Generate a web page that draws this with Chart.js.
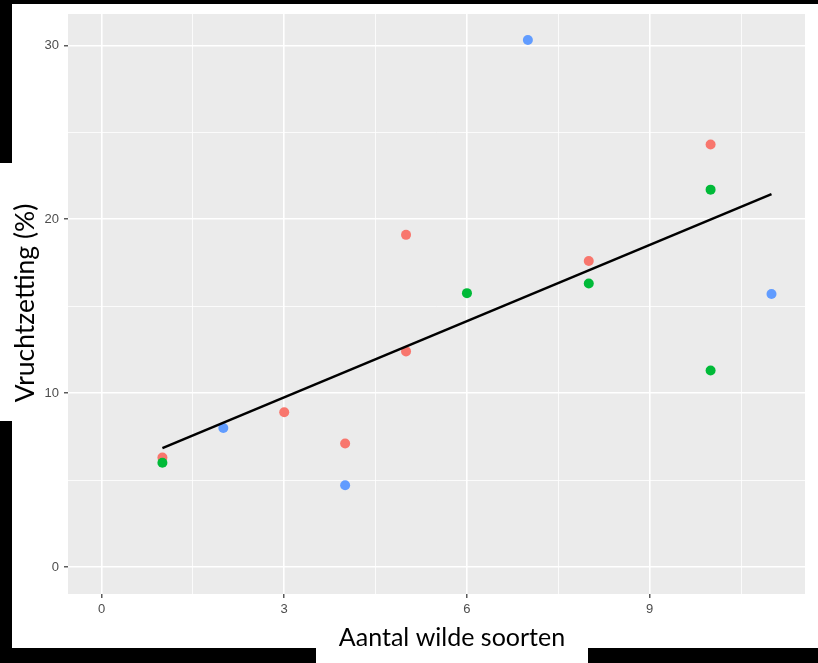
<!DOCTYPE html>
<html>
<head>
<meta charset="utf-8">
<script src="https://cdn.jsdelivr.net/npm/chart.js@4.4.1/dist/chart.umd.min.js"></script>
<style>
html,body{margin:0;padding:0;background:#fff;}
#wrap{position:relative;width:818px;height:663px;}
</style>
</head>
<body>
<div id="wrap"><canvas id="c" width="818" height="663"></canvas></div>
<script>
// ---- data ----
const xRed = [1, 3, 4, 5, 5, 8, 10];
const yRed = [6.3, 8.9, 7.1, 19.1, 12.4, 17.6, 24.3];
const xGreen = [1, 6, 8, 10, 10];
const yGreen = [6.0, 15.75, 16.3, 21.7, 11.3];
const xBlue = [2, 4, 7, 11];
const yBlue = [8.0, 4.7, 30.3, 15.7];
const fitX = [1, 11];
const fitY = [6.84, 21.44];
const xTicks = [0, 1.5, 3, 4.5, 6, 7.5, 9, 10.5];
const xLabelled = [0, 3, 6, 9];
const yTicks = [0, 5, 10, 15, 20, 25, 30];
const yLabelled = [0, 10, 20, 30];
const xTitle = 'Aantal wilde soorten';
const yTitle = 'Vruchtzetting (%)';

const pts = (xs, ys) => xs.map((x, i) => ({x: x, y: ys[i]}));

const frame = {
  id: 'frame',
  beforeDraw(chart) {
    const {ctx, chartArea: a} = chart;
    ctx.save();
    ctx.fillStyle = '#fff';
    ctx.fillRect(0, 0, chart.width, chart.height);
    ctx.fillStyle = '#EBEBEB';
    ctx.fillRect(a.left, a.top, a.right - a.left, a.bottom - a.top);
    ctx.restore();
  },
  afterDraw(chart) {
    const ctx = chart.ctx;
    ctx.save();
    ctx.fillStyle = '#000';
    ctx.fillRect(0, 0, 818, 4);
    ctx.fillRect(0, 0, 12, 163);
    ctx.fillRect(0, 421, 12, 242);
    ctx.fillRect(0, 648, 316, 15);
    ctx.fillRect(588, 648, 230, 15);
    ctx.fillStyle = '#000';
    ctx.textAlign = 'center';
    ctx.textBaseline = 'middle';
    ctx.font = '25px Lato, "Open Sans", sans-serif';
    ctx.fillText(xTitle, 452, 638);
    ctx.translate(25, 303);
    ctx.rotate(-Math.PI / 2);
    ctx.font = '26.5px Lato, "Open Sans", sans-serif';
    ctx.fillText(yTitle, 0, 0);
    ctx.restore();
  }
};

const tickFont = {family: '"Liberation Sans Narrow", "Liberation Sans", Arial, sans-serif', size: 13};
const isMajorX = v => xLabelled.includes(v);
const isMajorY = v => yLabelled.includes(v);

new Chart(document.getElementById('c'), {
  type: 'scatter',
  data: {
    datasets: [
      {type: 'line', data: pts(fitX, fitY), borderColor: '#000', borderWidth: 2.5, pointRadius: 0, fill: false, order: 0},
      {data: pts(xBlue, yBlue), backgroundColor: '#619CFF', pointRadius: 5, borderWidth: 0, order: 1},
      {data: pts(xGreen, yGreen), backgroundColor: '#00BA38', pointRadius: 5, borderWidth: 0, order: 2},
      {data: pts(xRed, yRed), backgroundColor: '#F8766D', pointRadius: 5, borderWidth: 0, order: 3}
    ]
  },
  options: {
    responsive: false,
    animation: false,
    events: [],
    layout: {padding: {top: 14, right: 13, left: 0, bottom: 0}},
    plugins: {legend: {display: false}, tooltip: {enabled: false}},
    scales: {
      x: {
        type: 'linear', min: -0.55, max: 11.55,
        afterBuildTicks: s => { s.ticks = xTicks.map(v => ({value: v})); },
        afterFit: s => { s.height = 69; },
        border: {display: false},
        grid: {
          color: '#FFFFFF',
          lineWidth: c => isMajorX(c.tick.value) ? 1.6 : 0.8,
          tickColor: c => isMajorX(c.tick.value) ? '#333333' : 'rgba(0,0,0,0)',
          tickLength: 4, tickWidth: 1.2
        },
        ticks: {
          autoSkip: false, maxRotation: 0, padding: 4,
          color: '#4D4D4D', font: tickFont,
          callback: v => isMajorX(v) ? String(v) : ''
        }
      },
      y: {
        type: 'linear', min: -1.55, max: 31.8,
        afterBuildTicks: s => { s.ticks = yTicks.map(v => ({value: v})); },
        afterFit: s => { s.width = 68; },
        border: {display: false},
        grid: {
          color: '#FFFFFF',
          lineWidth: c => isMajorY(c.tick.value) ? 1.6 : 0.8,
          tickColor: c => isMajorY(c.tick.value) ? '#333333' : 'rgba(0,0,0,0)',
          tickLength: 4, tickWidth: 1.2
        },
        ticks: {
          autoSkip: false, padding: 5,
          color: '#4D4D4D', font: tickFont,
          callback: v => isMajorY(v) ? String(v) : ''
        }
      }
    }
  },
  plugins: [frame]
});
</script>
</body>
</html>
